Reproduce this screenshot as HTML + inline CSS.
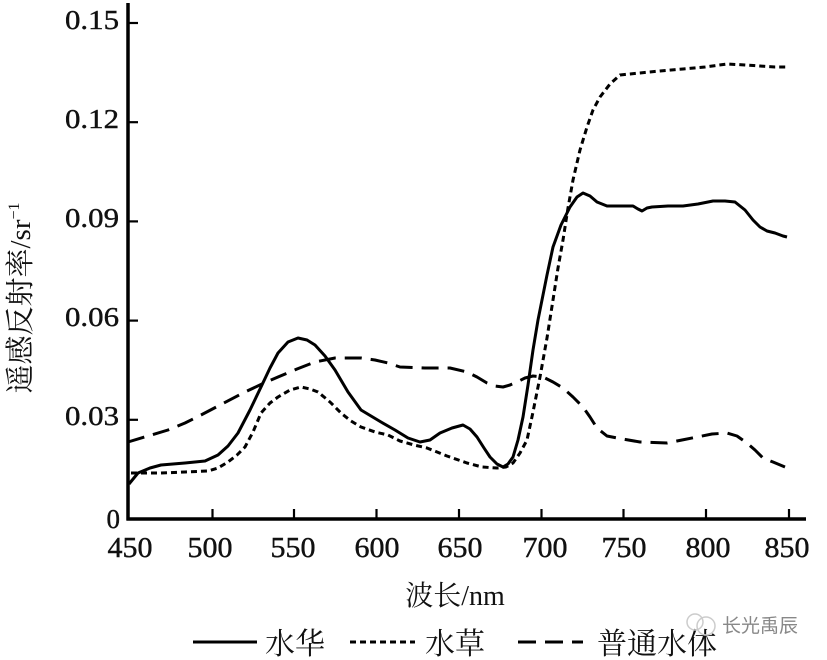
<!DOCTYPE html>
<html><head><meta charset="utf-8"><style>
html,body{margin:0;padding:0;background:#fff;}
svg{display:block;}
.num{font-family:"Liberation Serif",serif;font-size:27px;fill:#111;stroke:#111;stroke-width:0.4px;}
.cjk{font-family:"Liberation Serif","Noto Serif CJK SC","Noto Sans CJK SC",serif;fill:#111;}
</style></head><body>
<svg width="827" height="660" viewBox="0 0 827 660" xmlns="http://www.w3.org/2000/svg">
<rect width="827" height="660" fill="#fff"/>
<!-- axes -->
<line x1="128" y1="3" x2="128" y2="520.5" stroke="#000" stroke-width="3.5"/>
<line x1="126.5" y1="519" x2="806" y2="519" stroke="#000" stroke-width="3.5"/>
<!-- y ticks -->
<g stroke="#000" stroke-width="2.2">
<line x1="128" y1="23" x2="138" y2="23"/>
<line x1="128" y1="122.2" x2="138" y2="122.2"/>
<line x1="128" y1="221.4" x2="138" y2="221.4"/>
<line x1="128" y1="320.6" x2="138" y2="320.6"/>
<line x1="128" y1="419.8" x2="138" y2="419.8"/>
</g>
<!-- x ticks -->
<g stroke="#000" stroke-width="2.2">
<line x1="212.5" y1="519" x2="212.5" y2="509"/>
<line x1="294" y1="519" x2="294" y2="509"/>
<line x1="376.5" y1="519" x2="376.5" y2="509"/>
<line x1="459" y1="519" x2="459" y2="509"/>
<line x1="541.5" y1="519" x2="541.5" y2="509"/>
<line x1="623.5" y1="519" x2="623.5" y2="509"/>
<line x1="706" y1="519" x2="706" y2="509"/>
<line x1="789" y1="519" x2="789" y2="509"/>
</g>
<!-- y labels -->
<g class="num" text-anchor="end">
<text x="119" y="29" textLength="54" lengthAdjust="spacingAndGlyphs">0.15</text>
<text x="119" y="128" textLength="54" lengthAdjust="spacingAndGlyphs">0.12</text>
<text x="119" y="227" textLength="54" lengthAdjust="spacingAndGlyphs">0.09</text>
<text x="119" y="326" textLength="54" lengthAdjust="spacingAndGlyphs">0.06</text>
<text x="119" y="425" textLength="54" lengthAdjust="spacingAndGlyphs">0.03</text>
<text x="120" y="528">0</text>
</g>
<!-- x labels -->
<g class="num" style="font-size:28px" text-anchor="middle">
<text x="130" y="557" textLength="45" lengthAdjust="spacingAndGlyphs">450</text>
<text x="210" y="557" textLength="45" lengthAdjust="spacingAndGlyphs">500</text>
<text x="293" y="557" textLength="45" lengthAdjust="spacingAndGlyphs">550</text>
<text x="377" y="557" textLength="45" lengthAdjust="spacingAndGlyphs">600</text>
<text x="460" y="557" textLength="45" lengthAdjust="spacingAndGlyphs">650</text>
<text x="545" y="557" textLength="45" lengthAdjust="spacingAndGlyphs">700</text>
<text x="624" y="557" textLength="45" lengthAdjust="spacingAndGlyphs">750</text>
<text x="708" y="557" textLength="45" lengthAdjust="spacingAndGlyphs">800</text>
<text x="787" y="557" textLength="45" lengthAdjust="spacingAndGlyphs">850</text>
</g>
<!-- axis titles -->
<text class="cjk" x="455" y="605" text-anchor="middle" style="font-size:28px">波长/nm</text>
<g transform="translate(30,298) rotate(-90)">
<text class="cjk" x="0" y="0" text-anchor="middle" style="font-size:29px">遥感反射率/sr<tspan dy="-11" style="font-size:16px">−1</tspan></text>
</g>
<!-- series -->
<g fill="none" stroke="#000" stroke-width="3" stroke-linejoin="round" stroke-linecap="butt">
<polyline points="129,484 138,473 150,468 161,465 185,463 205,461 218,455 228,446 238,433 250,410 261,387 270,368 278,353 288,342 298,338 307,340 315,345 325,356 335,370 348,392 361,410 371,416 381,422 395,430 408,438 420,442 430,440 440,433 452,428 463,425 470,429 477,437 484,448 490,457 497,464 503,467 508,464 513,457 518,440 523,417 528,385 533,350 538,320 542,300 547,275 553,247 561,225 570,207 577,197 583,193 590,196 597,202 607,206 620,206 633,206 638,209 642,211 647,208 652,207 668,206 683,206 698,204 713,201 725,201 735,202 745,210 753,220 760,227 767,231 775,233 783,236 787,237"/>
<polyline stroke-dasharray="6,4" points="131,473 161,473 185,472 208,471 218,468 228,462 237,455 245,447 253,432 261,413 270,403 278,397 290,390 301,387 310,389 318,392 330,402 341,413 351,421 361,427 375,432 388,435 400,441 414,445 427,448 447,456 467,463 482,467 497,468 506,467 513,463 520,453 527,440 533,412 540,377 547,338 553,300 558,268 563,240 568,208 573,180 580,150 587,127 593,110 600,97 610,84 620,75 630,74 640,73 660,71 683,69 705,67 727,64 745,65 760,66 775,67 787,67"/>
<polyline stroke-dasharray="17,9" points="128,442 148,436 168,430 185,423 201,415 222,404 245,392 262,384 278,377 297,369 315,362 335,358 361,358 375,360 388,363 400,367 425,368 450,368 467,372 477,377 487,383 495,386 503,387 510,385 517,382 525,378 533,376 543,377 553,382 563,388 573,397 583,407 590,417 597,428 607,436 617,438 640,442 667,443 682,440 697,437 712,434 727,433 737,436 747,443 755,450 763,458 773,462 785,467"/>
</g>
<!-- legend -->
<g stroke="#000" stroke-width="3">
<line x1="193" y1="642" x2="257" y2="642"/>
<line x1="350" y1="642" x2="415" y2="642" stroke-dasharray="6,4"/>
<line x1="518" y1="642" x2="583" y2="642" stroke-dasharray="18,9"/>
</g>
<g class="cjk" style="font-size:30px">
<text x="265" y="654">水华</text>
<text x="425" y="654">水草</text>
<text x="597" y="654">普通水体</text>
</g>
<!-- watermark -->
<g fill="none" stroke="#ccc" stroke-width="1.5">
<circle cx="695" cy="622" r="8"/>
<circle cx="706" cy="626" r="9"/>
</g>
<text x="722" y="632" style="font-family:'Noto Sans CJK SC',sans-serif;font-size:19px;fill:#888">长光禹辰</text>
</svg>
</body></html>
